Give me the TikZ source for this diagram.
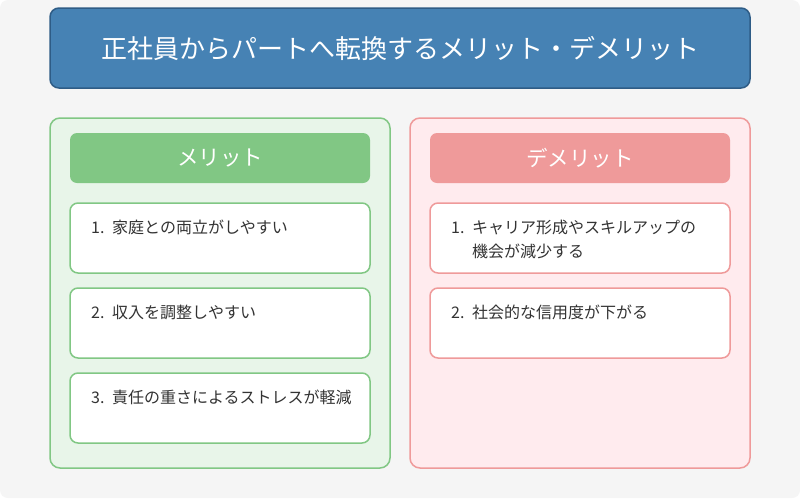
\documentclass[tikz,border=0pt]{standalone}
\usepackage{fontspec}
\setmainfont{Noto Sans CJK JP}
\usetikzlibrary{positioning}

% numbered item text with hanging indent
\newcommand{\numitem}[2]{\makebox[21pt][l]{#1}\parbox[t]{240pt}{#2}}

\begin{document}
\begin{tikzpicture}[x=1pt, y=-1pt,
  box/.style={draw, line width=1.5pt, outer sep=0pt, inner sep=0pt, anchor=north west},
  panel/.style={box, rounded corners=10pt, minimum width=340pt, minimum height=350pt},
  header/.style={anchor=north west, outer sep=0pt, inner sep=0pt, rounded corners=7pt,
    minimum width=300pt, minimum height=50pt, text=white, font=\fontsize{21.5}{24}\selectfont},
  itembox/.style={box, fill=white, rounded corners=8pt, minimum width=300pt, minimum height=70pt},
  itemtext/.style={anchor=base west, inner sep=0pt, text=ink, font=\fontsize{16}{24}\selectfont}]
  \definecolor{bg}{HTML}{F5F5F5}
  \definecolor{titlefill}{HTML}{4682B4}
  \definecolor{titleline}{HTML}{2E5C86}
  \definecolor{good}{HTML}{81C784}
  \definecolor{goodbg}{HTML}{E8F5E9}
  \definecolor{bad}{HTML}{EF9A9A}
  \definecolor{badbg}{HTML}{FFEBEE}
  \definecolor{ink}{HTML}{333333}

  \fill[white] (0,0) rectangle (800,498);
  \fill[bg, rounded corners=8pt] (0,0) rectangle (800,498);
  \useasboundingbox (0,0) rectangle (800,498);

  % title
  \node[box, draw=titleline, fill=titlefill, rounded corners=9pt, minimum width=700pt,
    minimum height=80pt, text=white, font=\fontsize{26}{30}\selectfont] (title) at (50,8)
    {正社員からパートへ転換するメリット・デメリット};

  % panels
  \node[panel, draw=good, fill=goodbg] (meritpanel) at (50,118) {};
  \node[panel, draw=bad, fill=badbg] (demeritpanel) at (410,118) {};
  \node[header, fill=good] (merithead) at (70,133) {メリット};
  \node[header, fill=bad] (demerithead) at (430,133) {デメリット};

  % merit items
  \foreach \i/\y/\txt in {1/203/{家庭との両立がしやすい}, 2/288/{収入を調整しやすい},
      3/373/{責任の重さによるストレスが軽減}} {
    \node[itembox, draw=good] (merit\i) at (70,\y) {};
    \node[itemtext] (merittext\i) at ([xshift=21pt, yshift=-30pt]merit\i.north west)
      {\numitem{\i.}{\txt}};
  }

  % demerit items
  \foreach \i/\y/\txt in {1/203/{キャリア形成やスキルアップの\\機会が減少する},
      2/288/{社会的な信用度が下がる}} {
    \node[itembox, draw=bad] (demerit\i) at (430,\y) {};
    \node[itemtext] (demerittext\i) at ([xshift=21pt, yshift=-30pt]demerit\i.north west)
      {\numitem{\i.}{\txt}};
  }
\end{tikzpicture}
\end{document}
